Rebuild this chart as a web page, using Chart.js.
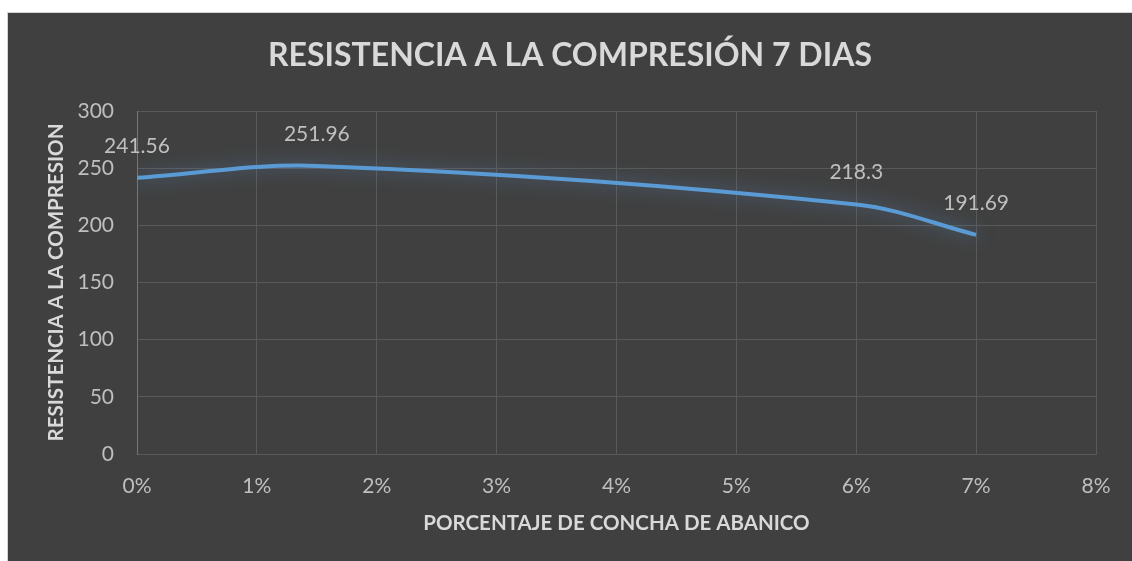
<!DOCTYPE html>
<html lang="es">
<head>
    <meta charset="UTF-8">
    <title>Resistencia a la compresión 7 dias</title>
    <script src="https://cdn.jsdelivr.net/npm/chart.js"></script>
    <style>
        * {
            padding: 0;
            margin: 0;
            box-sizing: border-box;
        }

        body {
            background: #ffffff;
            width: 1132px;
            height: 561px;
            overflow: hidden;
        }

        .chart-box {
            position: absolute;
            left: 7px;
            top: 12px;
            width: 1125px;
            height: 549px;
            background: #404040;
            border-left: 1px solid #d4d4d4;
            border-top: 1px solid #d4d4d4;
        }
    </style>
</head>

<body>
    <div class="chart-box">
        <canvas id="chart1"></canvas>
    </div>

    <script>
        // porcentaje de concha de abanico (fraccion) y resistencia
        const porcentajes = [0, 0.015, 0.06, 0.07];
        const resistencias = [241.56, 251.96, 218.3, 191.69];
        const yTicks = [0, 50, 100, 150, 200, 250, 300];
        const xTicks = [0, 0.01, 0.02, 0.03, 0.04, 0.05, 0.06, 0.07, 0.08];

        const textColor = '#d9d9d9';
        const tickColor = '#bfbfbf';
        const gridColor = '#595959';

        // glow under the line, like the excel soft edge effect
        const glow = {
            id: 'glow',
            beforeDatasetDraw(chart) {
                const ctx = chart.ctx;
                ctx.save();
                ctx.shadowColor = 'rgba(91, 155, 213, 0.6)';
                ctx.shadowBlur = 18;
            },
            afterDatasetDraw(chart) {
                chart.ctx.restore();
            }
        };

        // value labels above each point
        const valueLabels = {
            id: 'valueLabels',
            afterDatasetsDraw(chart) {
                const ctx = chart.ctx;
                const meta = chart.getDatasetMeta(0);
                ctx.save();
                ctx.font = '21px Lato';
                ctx.fillStyle = tickColor;
                ctx.textAlign = 'center';
                ctx.textBaseline = 'middle';
                meta.data.forEach((pt, i) => {
                    ctx.fillText(String(resistencias[i]), pt.x, pt.y - 32);
                });
                ctx.restore();
            }
        };

        const ctx = document.getElementById('chart1').getContext('2d');
        new Chart(ctx, {
            type: 'scatter',
            data: {
                datasets: [{
                    label: 'Resistencia',
                    data: porcentajes.map((p, i) => ({ x: p, y: resistencias[i] })),
                    showLine: true,
                    borderColor: '#5b9bd5',
                    borderWidth: 4,
                    pointRadius: 0,
                    tension: 0.35,
                    fill: false
                }]
            },
            options: {
                responsive: true,
                maintainAspectRatio: false,
                animation: false,
                layout: {
                    padding: 0
                },
                plugins: {
                    legend: { display: false },
                    tooltip: { enabled: false },
                    title: {
                        display: true,
                        text: 'RESISTENCIA A LA COMPRESIÓN 7 DIAS',
                        color: textColor,
                        font: { family: 'Lato', size: 32, weight: 'bold' },
                        padding: { top: 23, bottom: 36.6 }
                    }
                },
                scales: {
                    x: {
                        type: 'linear',
                        min: 0,
                        max: 0.08,
                        afterBuildTicks: s => { s.ticks = xTicks.map(v => ({ value: v })); },
                        afterFit: s => { s.height = 107; },
                        ticks: {
                            color: tickColor,
                            font: { family: 'Lato', size: 21 },
                            padding: 20,
                            callback: v => Math.round(v * 100) + '%'
                        },
                        grid: { color: gridColor, drawTicks: false },
                        border: { color: gridColor },
                        title: {
                            display: true,
                            text: 'PORCENTAJE DE CONCHA DE ABANICO',
                            color: textColor,
                            font: { family: 'Lato', size: 20.5, weight: 'bold' },
                            padding: { top: 0, bottom: 25 }
                        }
                    },
                    y: {
                        min: 0,
                        max: 300,
                        afterBuildTicks: s => { s.ticks = yTicks.map(v => ({ value: v })); },
                        afterFit: s => { s.width = 129; },
                        ticks: {
                            color: tickColor,
                            font: { family: 'Lato', size: 21 },
                            padding: 23
                        },
                        grid: { color: gridColor, drawTicks: false },
                        border: { color: '#767676' },
                        title: {
                            display: true,
                            text: 'RESISTENCIA A LA COMPRESION',
                            color: textColor,
                            font: { family: 'Lato', size: 20.5, weight: 'bold' },
                            padding: { top: 36, bottom: 0 }
                        }
                    },
                    // empty right margin so the title stays centred on the whole box
                    margen: {
                        position: 'right',
                        display: true,
                        afterFit: s => { s.width = 36; },
                        grid: { display: false, drawTicks: false },
                        border: { display: false },
                        ticks: { display: false }
                    }
                }
            },
            plugins: [glow, valueLabels]
        });
    </script>
</body>
</html>
